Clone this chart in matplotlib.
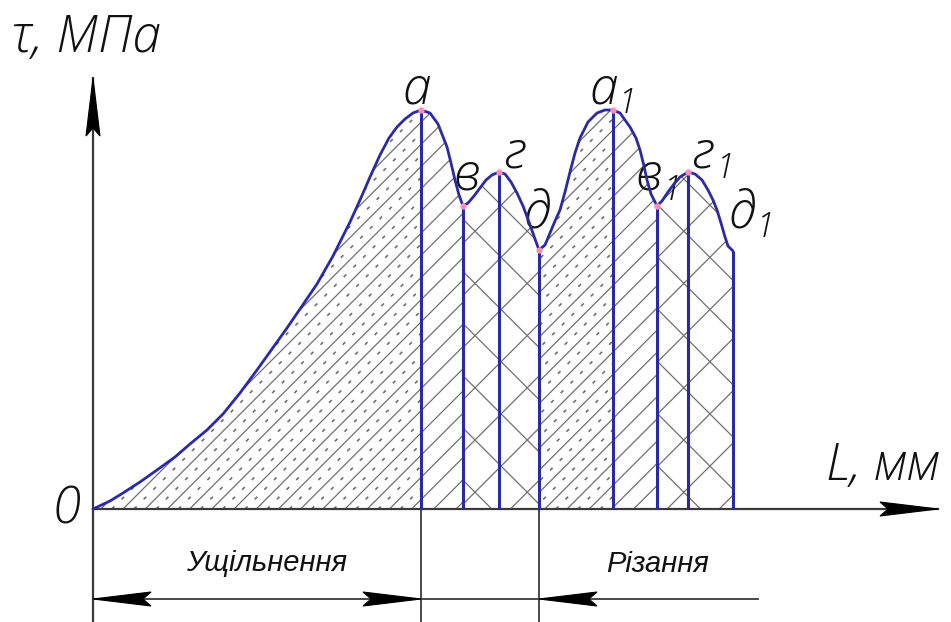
import numpy as np
import matplotlib
matplotlib.use('Agg')
import matplotlib.pyplot as plt
from matplotlib.patches import Polygon
from matplotlib.collections import LineCollection

# shear stress curve tau(L), drawing units with O at the origin
curve_L = [0, 17, 30, 47, 64, 82, 97, 114, 130, 147, 164, 184, 194, 207, 224, 240,
           257, 267, 277, 287, 296, 304, 312, 320, 328,
           337, 345, 354, 358, 362, 366, 370,
           375, 381, 387, 393, 399, 406,
           412, 418, 424, 430, 436, 442, 446,
           452, 457, 462, 467, 472, 477, 482, 487, 495, 504, 512, 520,
           527, 537, 543, 547, 551, 554, 558, 564,
           569, 575, 581, 587, 595,
           602, 609, 615, 620, 624, 628, 632, 635, 640]
curve_tau = [0, 8, 16, 27, 39, 52, 65, 79, 95, 116, 139, 167, 181, 200, 225, 253,
             287, 309, 332, 354, 371, 382, 390, 396, 399,
             396, 385, 362, 346, 329, 314, 303,
             306, 313, 321, 329, 334, 337,
             335, 327, 316, 303, 287, 270, 259,
             264, 276, 288, 299, 317, 337, 356, 371, 387, 396, 399, 399,
             396, 382, 371, 359, 343, 329, 315, 303,
             308, 317, 325, 332, 337,
             335, 329, 319, 309, 299, 286, 272, 263, 258]

# characteristic points and their labels
key_name = ['а', 'в', 'г', 'д', 'а', 'в', 'г', 'д']
key_sub = ['', '', '', '', '1', '1', '1', '1']
key_L = [328, 370, 406, 446, 520, 564, 595, 640]
key_tau = [399, 303, 337, 259, 399, 303, 337, 258]

# stage extents along L (compaction, cutting)
stage_names = ['Ущільнення', 'Різання']
stage_L = [0, 328, 446, 665]

blue = '#2a2aa6'
dark = '#3a3a3a'
hatch_c = '#707070'

plt.rcParams['font.family'] = ['Open Sans', 'DejaVu Sans']

fig = plt.figure(figsize=(9.51, 6.22), dpi=100)
ax = fig.add_axes([0, 0, 1, 1])
ax.set_xlim(-93, 858)
ax.set_ylim(-113, 509)
ax.set_aspect('equal')
ax.axis('off')

L = np.array(curve_L, dtype=float)
T = np.array(curve_tau, dtype=float)


def region(l0, l1):
    m = (L >= l0) & (L <= l1)
    pts = [(l0, 0)] + list(zip(L[m], T[m])) + [(l1, 0)]
    p = Polygon(pts, closed=True, facecolor='none', edgecolor='none')
    ax.add_patch(p)
    return p


def hatch(p, step, offset, sign=1, **kw):
    cs = np.arange(offset - 30 * step, offset + 30 * step, step)
    segs = [[(c, 0), (c + sign * 460, 460)] for c in cs]
    lc = LineCollection(segs, colors=hatch_c, linewidths=kw.pop('lw', 0.9), **kw)
    ax.add_collection(lc)
    lc.set_clip_path(p)


# hatching between the vertical lines
bounds = [0] + key_L[:1] + key_L[1:4:2] + key_L[4:5] + key_L[5:8:2]
styles = ['sand', 'line', 'cross', 'sand', 'line', 'cross']
for (l0, l1), st in zip(zip(bounds[:-1], bounds[1:]), styles):
    p = region(l0, l1)
    if st == 'cross':
        hatch(p, 52.2, 313, 1)
        hatch(p, 52.2, 451, -1)
    else:
        hatch(p, 22.2, 30, 1)
        if st == 'sand':
            hatch(p, 22.2, 41, 1, lw=1.2, linestyles=[(0, (2.2, 6))])

# curve and ordinates
ax.plot(L, T, color=blue, lw=2.0, zorder=5, solid_capstyle='round')
ax.vlines(key_L, 0, key_tau, color=blue, lw=2.2, zorder=5)
ax.plot(key_L[:7], key_tau[:7], 'o', ms=3.5, color='#ff8fb5', zorder=6)


def arrow(x, y, dx, dy, length=58, half=7):
    d = np.array([dx, dy], dtype=float)
    n = np.array([-dy, dx], dtype=float)
    tip = np.array([x, y], dtype=float)
    base = tip - d * length
    pts = [tip, base + n * half, tip - d * length * 0.86, base - n * half]
    ax.add_patch(Polygon(pts, closed=True, facecolor='black', edgecolor='black',
                         lw=0.8, zorder=7))


# axes
ax.plot([0, 845], [0, 0], color=dark, lw=1.6, zorder=4)
ax.plot([0, 0], [-113, 431], color=dark, lw=1.6, zorder=4)
arrow(845, 0, 1, 0)
arrow(0, 431, 0, 1)

# dimension lines of the stages
ax.vlines(stage_L[1:3], -113, 0, color=dark, lw=1.3)
ax.plot([stage_L[0], stage_L[3]], [-90, -90], color=dark, lw=1.3)
arrow(stage_L[0], -90, -1, 0)
arrow(stage_L[1], -90, 1, 0)
arrow(stage_L[2], -90, -1, 0)

sfont = dict(family='Liberation Sans', style='italic', fontsize=21, color='#111111')
ax.text(174, -54, stage_names[0], ha='center', va='center', **sfont)
ax.text(564, -55, stage_names[1], ha='center', va='center', **sfont)

gfont = dict(style='italic', fontsize=37, color='#111111', fontweight='light')
ax.text(-81, 457, 'τ, МПа', ha='left', va='baseline', **gfont)
ax.text(847, 29, 'L, мм', ha='right', va='baseline', **gfont)
ax.text(-26, -14, '0', ha='center', va='baseline', **gfont)

lab_dx = [-4, 4, 15, -2, -9, -8, 14, 9]
lab_y = [406, 319, 341, 282, 406, 319, 341, 282]
for i in range(8):
    ax.text(key_L[i] + lab_dx[i], lab_y[i], key_name[i], ha='center',
            va='baseline', **gfont)
    if key_sub[i]:
        ax.text(key_L[i] + lab_dx[i] + 24, lab_y[i] - 10, key_sub[i], ha='center',
                va='baseline', **dict(gfont, fontsize=25))

fig.savefig('out.png', dpi=100, facecolor='white')
